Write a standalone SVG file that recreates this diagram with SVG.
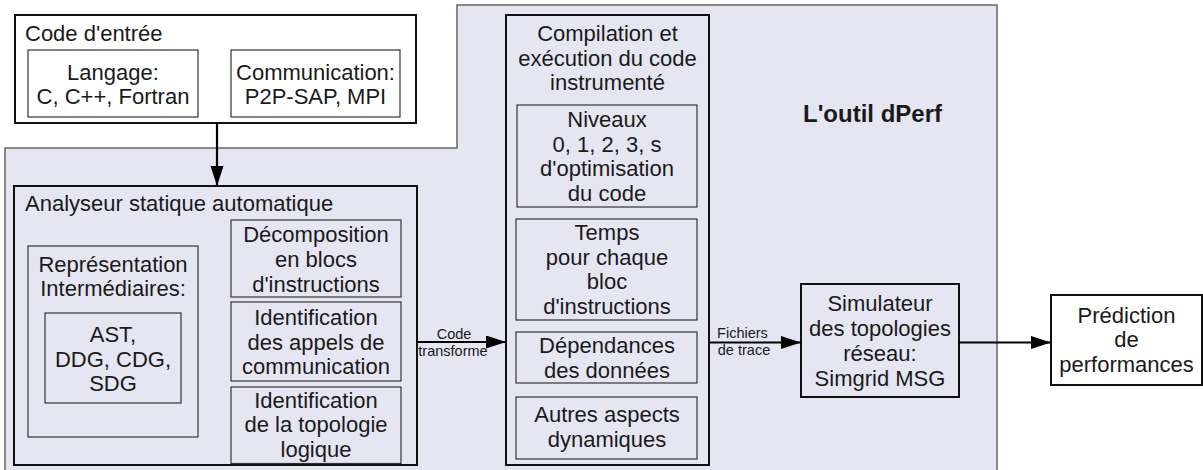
<svg xmlns="http://www.w3.org/2000/svg" width="1203" height="470" viewBox="0 0 1203 470">
<defs>
<style>
text{font-family:"Liberation Sans",Arial,sans-serif;fill:#1a1a1a;font-size:22px}
.c{text-anchor:middle}
.lbl{font-size:14.5px}
.title{font-weight:bold;font-size:24px}
.outer{fill:none;stroke:#111;stroke-width:2}
.outerw{fill:#fff;stroke:#111;stroke-width:2}
.inner{fill:none;stroke:#333;stroke-width:1.2}
.innerw{fill:#fff;stroke:#333;stroke-width:1.2}
.conn{stroke:#000;stroke-width:2.2;fill:none;marker-end:url(#arr)}
</style>
<marker id="arr" markerUnits="userSpaceOnUse" markerWidth="21" markerHeight="14" refX="20" refY="6.5" orient="auto">
<path d="M0,0 L20,6.5 L0,13 z" fill="#000"/>
</marker>
</defs>
<rect width="1203" height="470" fill="#fff"/>
<g id="dperf">
<path d="M5,471 L5,148 L457,148 L457,5 L997,5 L997,471" fill="#e6e6f2" stroke="#666" stroke-width="1.5"/>
<text class="title" x="803" y="122">L'outil dPerf</text>
</g>
<g id="code-entree">
<rect class="outerw" x="15" y="15" width="401" height="108"/>
<text x="25" y="41">Code d'entrée</text>
<g id="langage">
<rect class="innerw" x="28" y="50" width="170" height="67"/>
<text class="c" x="113" y="80">Langage:</text>
<text class="c" x="113" y="104">C, C++, Fortran</text>
</g>
<g id="communication">
<rect class="innerw" x="231" y="50" width="169" height="67"/>
<text class="c" x="315.5" y="80">Communication:</text>
<text class="c" x="315.5" y="104">P2P-SAP, MPI</text>
</g>
</g>
<g id="analyseur">
<rect class="outer" x="14" y="186" width="403" height="279"/>
<text x="25" y="211">Analyseur statique automatique</text>
<g id="representation">
<rect class="inner" x="28" y="246" width="170" height="191"/>
<text class="c" x="113" y="272">Représentation</text>
<text class="c" x="113" y="295.5">Intermédiaires:</text>
</g>
<g id="ast">
<rect class="inner" x="45" y="313" width="136" height="90"/>
<text class="c" x="113" y="342">AST,</text>
<text class="c" x="113" y="366.5">DDG, CDG,</text>
<text class="c" x="113" y="391">SDG</text>
</g>
<g id="decomposition">
<rect class="inner" x="231" y="220" width="170" height="77"/>
<text class="c" x="316" y="242">Décomposition</text>
<text class="c" x="316" y="267">en blocs</text>
<text class="c" x="316" y="292">d'instructions</text>
</g>
<g id="ident-appels">
<rect class="inner" x="231" y="302" width="170" height="79"/>
<text class="c" x="316" y="324.5">Identification</text>
<text class="c" x="316" y="349.5">des appels de</text>
<text class="c" x="316" y="374">communication</text>
</g>
<g id="ident-topologie">
<rect class="inner" x="231" y="387" width="170" height="76.5"/>
<text class="c" x="316" y="407.5">Identification</text>
<text class="c" x="316" y="432">de la topologie</text>
<text class="c" x="316" y="457">logique</text>
</g>
</g>
<g id="compilation">
<rect class="outer" x="506" y="15" width="203" height="450"/>
<text class="c" x="607.5" y="41">Compilation et</text>
<text class="c" x="607.5" y="65.5">exécution du code</text>
<text class="c" x="607.5" y="90">instrumenté</text>
<g id="niveaux">
<rect class="inner" x="517" y="105" width="180" height="102"/>
<text class="c" x="607" y="127">Niveaux</text>
<text class="c" x="607" y="151.5">0, 1, 2, 3, s</text>
<text class="c" x="607" y="176">d'optimisation</text>
<text class="c" x="607" y="200.5">du code</text>
</g>
<g id="temps">
<rect class="inner" x="516" y="219" width="181" height="101"/>
<text class="c" x="607" y="240">Temps</text>
<text class="c" x="607" y="264.5">pour chaque</text>
<text class="c" x="607" y="289">bloc</text>
<text class="c" x="607" y="313.5">d'instructions</text>
</g>
<g id="dependances">
<rect class="inner" x="516" y="332" width="181" height="51"/>
<text class="c" x="607" y="353">Dépendances</text>
<text class="c" x="607" y="377.5">des données</text>
</g>
<g id="autres">
<rect class="inner" x="516" y="397" width="181" height="62"/>
<text class="c" x="607" y="422">Autres aspects</text>
<text class="c" x="607" y="447">dynamiques</text>
</g>
</g>
<g id="simulateur">
<rect class="outer" x="801" y="284" width="158" height="113"/>
<text class="c" x="880" y="311">Simulateur</text>
<text class="c" x="880" y="336">des topologies</text>
<text class="c" x="880" y="361">réseau:</text>
<text class="c" x="880" y="386">Simgrid MSG</text>
</g>
<g id="prediction">
<rect class="outerw" x="1051" y="295" width="151" height="90"/>
<text class="c" x="1126.5" y="322.5">Prédiction</text>
<text class="c" x="1126.5" y="347">de</text>
<text class="c" x="1126.5" y="372">performances</text>
</g>
<g id="connectors">
<line class="conn" x1="217" y1="123" x2="217" y2="186"/>
<line class="conn" x1="417" y1="342" x2="506" y2="342"/>
<text class="lbl c" x="454" y="339">Code</text>
<text class="lbl c" x="453" y="356">transforme</text>
<line class="conn" x1="709" y1="342.5" x2="801" y2="342.5"/>
<text class="lbl c" x="742.5" y="338">Fichiers</text>
<text class="lbl c" x="744" y="355">de trace</text>
<line class="conn" x1="959" y1="342.5" x2="1051" y2="342.5"/>
</g>
</svg>
